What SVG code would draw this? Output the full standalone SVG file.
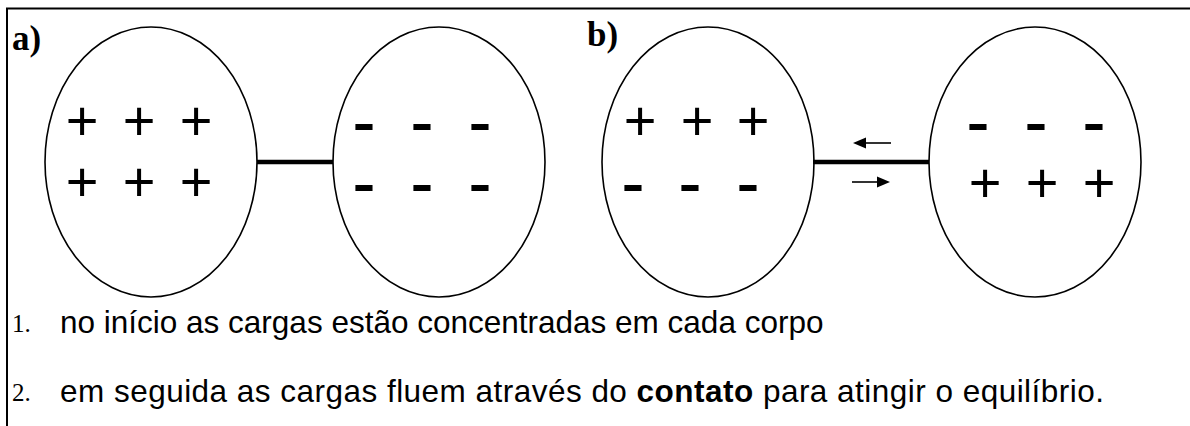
<svg xmlns="http://www.w3.org/2000/svg" width="1190" height="426" viewBox="0 0 1190 426">
<style>
.body{fill:none;stroke:#000;stroke-width:1.6}
.wire{stroke:#000;stroke-width:4.5}
.frame{stroke:#000;stroke-width:2;fill:none}
.lab{font-family:"Liberation Serif","Times New Roman",serif;font-weight:bold;font-size:35px}
.plus{font-family:"Liberation Sans",Arial,sans-serif;font-size:56px;text-anchor:middle}
.minus{font-family:"Liberation Sans",Arial,sans-serif;font-weight:bold;font-size:50px;text-anchor:middle}
.num{font-family:"Liberation Serif","Times New Roman",serif;font-size:25px}
.txt{font-family:"Liberation Sans",Arial,sans-serif;font-size:31.5px}
.arr{stroke:#000;stroke-width:1.6}
</style>
<rect width="1190" height="426" fill="#fff"/>
<g id="frame">
<path class="frame" d="M7,427 V8.5 H1191"/>
</g>
<g id="labels">
<text class="lab" x="12" y="50">a)</text>
<text class="lab" x="587" y="46">b)</text>
</g>
<g id="connectors">
<line class="wire" x1="257" y1="162" x2="333" y2="162"/>
<line class="wire" x1="813" y1="162" x2="929" y2="162"/>
<line class="arr" x1="891" y1="143" x2="864" y2="143"/>
<polygon points="853,143 866,137.5 866,148.5"/>
<line class="arr" x1="852" y1="182" x2="879" y2="182"/>
<polygon points="890,182 877,176.5 877,187.5"/>
</g>
<g id="body-a1">
<ellipse class="body" cx="151" cy="162" rx="106" ry="135"/>
<text class="plus" x="82" y="140">+</text><text class="plus" x="139" y="140">+</text><text class="plus" x="196" y="140">+</text>
<text class="plus" x="82" y="201">+</text><text class="plus" x="139" y="201">+</text><text class="plus" x="196" y="201">+</text>
</g>
<g id="body-a2">
<ellipse class="body" cx="439" cy="162" rx="106" ry="135"/>
<text class="minus" x="364" y="139.5" textLength="22.5" lengthAdjust="spacingAndGlyphs">-</text><text class="minus" x="422" y="139.5" textLength="22.5" lengthAdjust="spacingAndGlyphs">-</text><text class="minus" x="480" y="139.5" textLength="22.5" lengthAdjust="spacingAndGlyphs">-</text>
<text class="minus" x="364" y="200.5" textLength="22.5" lengthAdjust="spacingAndGlyphs">-</text><text class="minus" x="422" y="200.5" textLength="22.5" lengthAdjust="spacingAndGlyphs">-</text><text class="minus" x="480" y="200.5" textLength="22.5" lengthAdjust="spacingAndGlyphs">-</text>
</g>
<g id="body-b1">
<ellipse class="body" cx="708" cy="162" rx="106" ry="135"/>
<text class="plus" x="640" y="140">+</text><text class="plus" x="697" y="140">+</text><text class="plus" x="753" y="140">+</text>
<text class="minus" x="633" y="200.5" textLength="22.5" lengthAdjust="spacingAndGlyphs">-</text><text class="minus" x="690" y="200.5" textLength="22.5" lengthAdjust="spacingAndGlyphs">-</text><text class="minus" x="748" y="200.5" textLength="22.5" lengthAdjust="spacingAndGlyphs">-</text>
</g>
<g id="body-b2">
<ellipse class="body" cx="1035" cy="162" rx="106" ry="135"/>
<text class="minus" x="978" y="139.5" textLength="22.5" lengthAdjust="spacingAndGlyphs">-</text><text class="minus" x="1036" y="139.5" textLength="22.5" lengthAdjust="spacingAndGlyphs">-</text><text class="minus" x="1094" y="139.5" textLength="22.5" lengthAdjust="spacingAndGlyphs">-</text>
<text class="plus" x="985" y="202">+</text><text class="plus" x="1042" y="202">+</text><text class="plus" x="1099" y="202">+</text>
</g>
<g id="caption">
<text class="num" x="12" y="332">1.</text>
<text class="txt" x="60" y="333">no início as cargas estão concentradas em cada corpo</text>
<text class="num" x="12" y="401">2.</text>
<text class="txt" x="60" y="402" textLength="1044" lengthAdjust="spacing">em seguida as cargas fluem através do <tspan font-weight="bold">contato</tspan> para atingir o equilíbrio.</text>
</g>
</svg>
